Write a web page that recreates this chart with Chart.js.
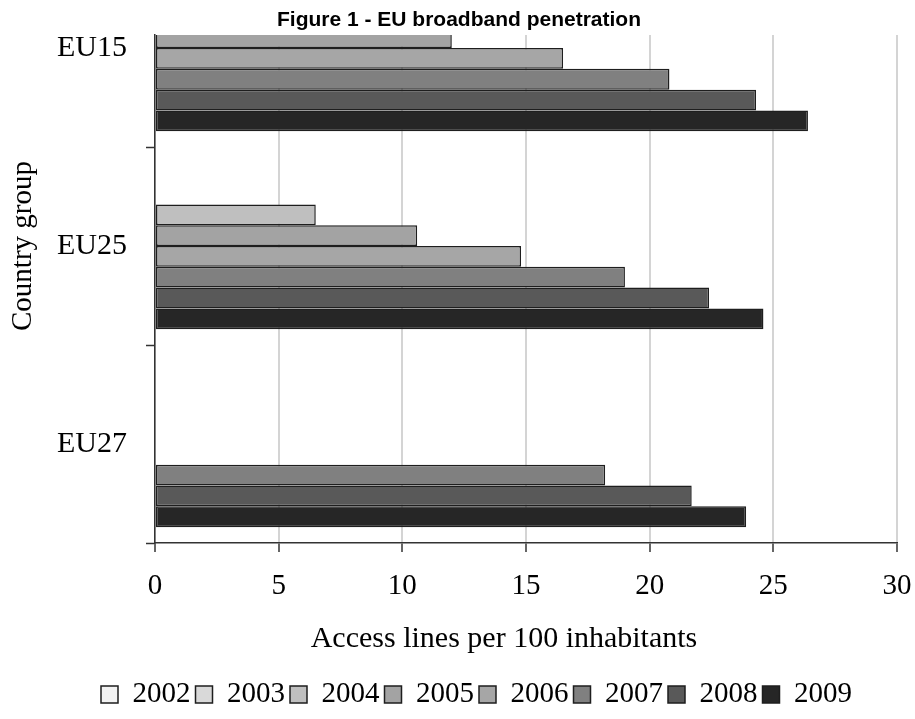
<!DOCTYPE html>
<html>
<head>
<meta charset="utf-8">
<script src="https://cdn.jsdelivr.net/npm/chart.js@4.4.1/dist/chart.umd.min.js"></script>
<style>
    html, body { margin: 0; padding: 0; background: #fff; }
    #contenedor { width: 915px; height: 719px; }
</style>
</head>
<body>
<div id="contenedor"><canvas id="grafica"></canvas></div>
<script>
// categorias y años
const grupos = ['EU15', 'EU25', 'EU27'];
const anos = ['2002', '2003', '2004', '2005', '2006', '2007', '2008', '2009'];

// lineas de acceso por 100 habitantes (EU15, EU25, EU27)
const v2002 = [null, null, null];
const v2003 = [null, null, null];
const v2004 = [null, 6.5, null];
const v2005 = [12.0, 10.6, null];
const v2006 = [16.5, 14.8, null];
const v2007 = [20.8, 19.0, 18.2];
const v2008 = [24.3, 22.4, 21.7];
const v2009 = [26.4, 24.6, 23.9];

const ticksX = [0, 5, 10, 15, 20, 25, 30];

const valoresPorAno = [v2002, v2003, v2004, v2005, v2006, v2007, v2008, v2009];
const grises = ['#f2f2f2', '#d9d9d9', '#bfbfbf', '#a3a3a3', '#a6a6a6', '#808080', '#595959', '#262626'];

const serif = 'Liberation Serif';

const datasets = anos.map((ano, i) => ({
    label: ano,
    data: valoresPorAno[i]
        .map((v, j) => ({ x: v, y: j }))
        .filter(p => p.x !== null),
    backgroundColor: grises[i],
    borderColor: '#1e1e1e',
    borderWidth: 1.5,
    borderSkipped: false,
    clip: { top: 0, bottom: 5, left: 5, right: 5 }
}));

// titulo y titulos de ejes, colocados como en la figura original
const titulos = {
    id: 'titulos',
    afterDraw(chart) {
        const ctx = chart.ctx;
        const sy = chart.scales.y;
        const sx = chart.scales.x;
        ctx.save();
        ctx.fillStyle = '#000';
        ctx.textAlign = 'center';
        ctx.textBaseline = 'middle';

        ctx.font = 'bold 21px "Liberation Sans"';
        ctx.fillText('Figure 1 - EU broadband penetration', 459, 20);

        ctx.font = '30px "' + serif + '"';
        ctx.fillText('Access lines per 100 inhabitants', (sx.left + sx.right) / 2 - 22, sx.top + 96);

        ctx.font = '29px "' + serif + '"';
        ctx.translate(23, sy.getPixelForValue(1));
        ctx.rotate(-Math.PI / 2);
        ctx.fillText('Country group', 0, 0);
        ctx.restore();
    }
};

const ctx = document.getElementById('grafica').getContext('2d');
new Chart(ctx, {
    type: 'bar',
    data: { datasets },
    plugins: [titulos],
    options: {
        indexAxis: 'y',
        responsive: true,
        maintainAspectRatio: false,
        animation: false,
        categoryPercentage: 0.84,
        barPercentage: 1,
        layout: { padding: { left: 38, right: 0, top: 35, bottom: 0 } },
        scales: {
            x: {
                type: 'linear',
                min: 0,
                max: 30,
                afterBuildTicks: (scale) => { scale.ticks = ticksX.map(v => ({ value: v })); },
                afterFit: (scale) => { scale.paddingRight = 18; },
                grid: { color: '#d4d4d4', lineWidth: 2, tickColor: '#333', tickLength: 9, tickWidth: 1.5 },
                border: { color: '#333', width: 1.5 },
                ticks: { color: '#000', font: { family: serif, size: 29 }, padding: 17 },
                title: {
                    // espacio reservado; el texto lo dibuja el plugin
                    display: true,
                    text: ' ',
                    font: { family: serif, size: 29 },
                    padding: { top: 12, bottom: 7.4 }
                }
            },
            y: {
                type: 'linear',
                reverse: true,
                offset: false,
                min: -0.066,
                max: 2.5,
                afterBuildTicks: (scale) => { scale.ticks = grupos.map((g, i) => ({ value: i })); },
                afterFit: (scale) => { scale.paddingTop = 0; scale.paddingBottom = 0; },
                grid: { drawOnChartArea: false, offset: true, tickColor: '#333', tickLength: 9, tickWidth: 1.5 },
                border: { color: '#333', width: 1.5 },
                ticks: {
                    color: '#000',
                    font: { family: serif, size: 30 },
                    padding: 19,
                    callback: (v) => grupos[v]
                }
            }
        },
        plugins: {
            legend: {
                position: 'bottom',
                labels: {
                    color: '#000',
                    font: { family: serif, size: 29 },
                    boxWidth: 17,
                    boxHeight: 17,
                    padding: 5
                }
            },
            tooltip: { enabled: false }
        }
    }
});
</script>
</body>
</html>
